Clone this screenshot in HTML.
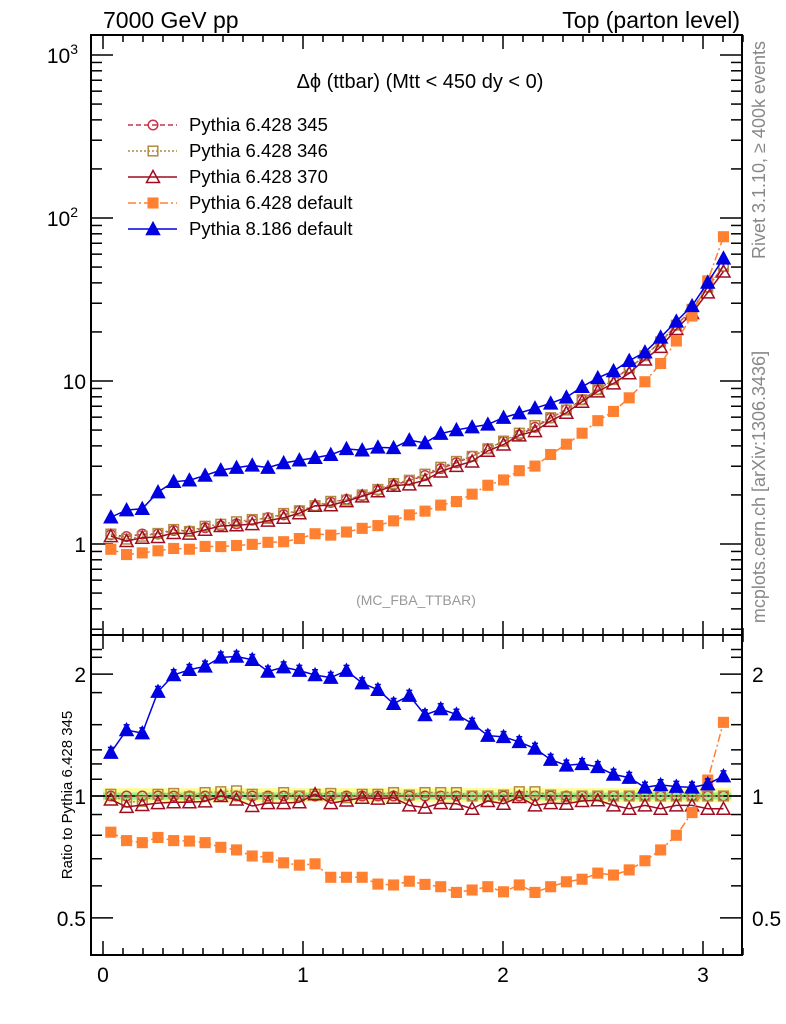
<!DOCTYPE html>
<html><head><meta charset="utf-8"><style>
body{margin:0;background:#fff}
svg{display:block;font-family:"Liberation Sans",sans-serif}
</style></head><body>
<svg id="c" width="786" height="1024" xmlns="http://www.w3.org/2000/svg"></svg>
<script>
const categories=[0,1,2,3,4,5,6,7,8,9,10,11,12,13,14,15,16,17,18,19,20,21,22,23,24,25,26,27,28,29,30,31,32,33,34,35,36,37,38,39];
const p345=[1.14,1.11,1.15,1.15,1.21,1.2,1.26,1.29,1.33,1.4,1.45,1.51,1.6,1.7,1.8,1.88,1.98,2.14,2.3,2.45,2.63,2.9,3.15,3.45,3.84,4.26,4.67,5.2,5.93,6.67,7.68,8.85,10.2,12.0,14.3,17.4,22.0,27.5,37.6,50.5];
const r346=[1.01,0.965,0.97,1.01,1.015,0.995,1.02,1.025,1.03,1.01,0.99,1.02,1.0,1.01,1.015,0.99,1.01,1.01,1.02,1.005,1.02,1.02,1.02,1.0,1.0,1.005,1.025,1.025,1.005,0.995,1.0,1.0,1.0,1.0,1.0,1.0,1.0,1.0,1.0,1.0];
const r370=[0.98,0.94,0.95,0.96,0.965,0.965,0.97,1.0,0.98,0.945,0.96,0.96,0.965,1.01,0.96,0.975,0.99,0.985,0.99,0.948,0.936,0.96,0.957,0.93,0.972,0.957,0.994,0.948,0.96,0.957,0.972,0.976,0.948,0.93,0.948,0.93,0.948,0.948,0.93,0.93];
const r6def=[0.814,0.776,0.767,0.79,0.776,0.774,0.767,0.747,0.736,0.711,0.706,0.684,0.675,0.68,0.63,0.63,0.63,0.606,0.603,0.616,0.605,0.597,0.578,0.586,0.597,0.58,0.603,0.578,0.597,0.614,0.623,0.645,0.638,0.657,0.692,0.736,0.80,0.91,1.095,1.52];
const r8def=[1.28,1.455,1.43,1.81,1.99,2.05,2.09,2.20,2.21,2.17,2.03,2.08,2.04,1.99,1.96,2.04,1.90,1.83,1.69,1.77,1.585,1.64,1.59,1.51,1.41,1.40,1.36,1.31,1.23,1.19,1.20,1.18,1.13,1.11,1.05,1.065,1.055,1.05,1.07,1.12];
const xTicks=["0","1","2","3"];
const mainTicks=[1,10,100,1000];
const ratioTicks=["0.5","1","2"];

const svg=document.getElementById('c');const NS='http://www.w3.org/2000/svg';
function mk(t,a,p){const e=document.createElementNS(NS,t);for(const k in a)e.setAttribute(k,a[k]);(p||svg).appendChild(e);return e;}
const L=91,R=742,T1=35,B1=635,T2=635,B2=955;
const binW=Math.PI/40;
const X=v=>103+200*v;
const Y1=v=>544-163*Math.log10(v);
const Y2=v=>796-405*Math.log10(v);
const xc=i=>(i+0.5)*binW;

const band=mk('g',{});
mk('rect',{x:X(0),y:Y2(1.045),width:X(Math.PI)-X(0),height:Y2(0.965)-Y2(1.045),fill:'#fdfb8a'},band);
mk('rect',{x:X(0),y:Y2(1.02),width:X(Math.PI)-X(0),height:Y2(0.98)-Y2(1.02),fill:'#98f08a'},band);
mk('line',{x1:L,x2:R,y1:Y2(1),y2:Y2(1),stroke:'#000','stroke-width':1.5});

const fr1=mk('rect',{x:L,y:T1,width:R-L,height:B1-T1,fill:'none',stroke:'#000','stroke-width':2});

const fr2=mk('rect',{x:L,y:T2,width:R-L,height:B2-T2,fill:'none',stroke:'#000','stroke-width':2});


const tk=mk('g',{stroke:'#000','stroke-width':1.5});
for(let k=0;k<=32;k++){const v=k/10;const x=X(v);const len=(k%10==0)?14:7;
 [[T1,1],[B1,-1],[T2,1],[B2,-1]].forEach(([y,d])=>mk('line',{x1:x,x2:x,y1:y,y2:y+d*len},tk));}
xTicks.forEach((s,i)=>{const t=mk('text',{x:X(+s),y:982,'font-size':21,'text-anchor':'middle'});t.textContent=s;
 });
for(let d=-1;d<=3;d++)for(let m=1;m<10;m++){const v=m*Math.pow(10,d);const y=Y1(v);if(y<T1||y>B1)continue;const len=m==1?22:11;
 mk('line',{x1:L,x2:L+len,y1:y,y2:y},tk);mk('line',{x1:R,x2:R-len,y1:y,y2:y},tk);}
const mlab=[["1",""],["10",""],["10","2"],["10","3"]];
mainTicks.forEach((v,i)=>{const t=mk('text',{x:86,y:Y1(v)+8,'font-size':21,'text-anchor':'end'});
 
 if(mlab[i][1]){t.textContent=mlab[i][0];const s=mk('tspan',{dy:-9,'font-size':14},t);s.textContent=mlab[i][1];t.setAttribute('x',78);}else t.textContent=mlab[i][0];});
[0.5,0.6,0.7,0.8,0.9,1,1.1,1.2,1.3,1.5,1.8,2,2.2,2.3].forEach(v=>{const y=Y2(v);const len=(v==0.5||v==1||v==2)?22:11;
 mk('line',{x1:L,x2:L+len,y1:y,y2:y},tk);mk('line',{x1:R,x2:R-len,y1:y,y2:y},tk);});
ratioTicks.forEach(s=>{[[86,'end'],[752,'start']].forEach(([x,a])=>{const t=mk('text',{x:x,y:Y2(+s)+8,'font-size':21,'text-anchor':a});t.textContent=s;
 });});

const p6def=p345.map((v,i)=>v*r6def[i]);
const p8def=p345.map((v,i)=>v*r8def[i]);
const p346=p345.map((v,i)=>v*r346[i]);
const p370=p345.map((v,i)=>v*r370[i]);
const r345=p345.map(()=>1);
const series=[
 {n:'pythia-6428-345',c:'#c8344a',d:'5,3',m:'circle',f:false,main:p345,rat:r345},
 {n:'pythia-6428-346',c:'#b08a40',d:'2,2',m:'square',f:false,main:p346,rat:r346},
 {n:'pythia-6428-370',c:'#a00c20',d:'',m:'tri',f:false,main:p370,rat:r370},
 {n:'pythia-6428-default',c:'#ff8030',d:'8,3,2,3',m:'square',f:true,main:p6def,rat:r6def},
 {n:'pythia-8186-default',c:'#0000e0',d:'',m:'tri',f:true,main:p8def,rat:r8def}];
function marker(g,m,x,y,c,f,s){s=s||1;const fill=f?c:'none';const a={stroke:c,'stroke-width':1.5,fill:fill};
 if(m=='circle')return mk('circle',Object.assign({cx:x,cy:y,r:4.8*s},a),g);
 if(m=='square')return mk('rect',Object.assign({x:x-4.8*s,y:y-4.8*s,width:9.6*s,height:9.6*s},a),g);
 return mk('polygon',Object.assign({points:`${x},${y-6.5*s} ${x-6.5*s},${y+5.5*s} ${x+6.5*s},${y+5.5*s}`},a),g);}
series.forEach(s=>{
 [[s.main,Y1,'main'],[s.rat,Y2,'ratio']].forEach(([arr,Yf,pn])=>{
  const g=mk('g',{});
  const pts=arr.map((v,i)=>X(xc(categories[i]))+','+Yf(v)).join(' ');
  mk('polyline',{points:pts,fill:'none',stroke:s.c,'stroke-width':1.5,'stroke-dasharray':s.d},g);
  arr.forEach((v,i)=>{const x=X(xc(categories[i])),y=Yf(v);
   if(s.n=='pythia-8186-default'&&pn=='ratio'){mk('line',{x1:x,x2:x,y1:Yf(v*1.03),y2:Yf(v/1.03),stroke:s.c,'stroke-width':1.5},g);
     mk('line',{x1:x-3,x2:x+3,y1:Yf(v*1.03),y2:Yf(v*1.03),stroke:s.c,'stroke-width':1.5},g);
     mk('line',{x1:x-3,x2:x+3,y1:Yf(v/1.03),y2:Yf(v/1.03),stroke:s.c,'stroke-width':1.5},g);}
   const mm=marker(g,s.m,x,y,s.c,s.f);
   });
 });
});

const names=['Pythia 6.428 345','Pythia 6.428 346','Pythia 6.428 370','Pythia 6.428 default','Pythia 8.186 default'];
series.forEach((s,i)=>{const y=125+i*26;const g=mk('g',{});
 mk('line',{x1:128,x2:177,y1:y,y2:y,stroke:s.c,'stroke-width':1.5,'stroke-dasharray':s.d},g);
 marker(g,s.m,153,y,s.c,s.f);
 const t=mk('text',{x:189,y:y+6,'font-size':18.5},g);t.textContent=names[i];});

function txt(x,y,s,size,attrs,name){const t=mk('text',Object.assign({x:x,y:y,'font-size':size},attrs||{}));t.textContent=s;
 return t;}
txt(103,28,'7000 GeV pp',23,{},'energy-label');
txt(740,28,'Top (parton level)',23,{'text-anchor':'end'},'process-label');
txt(420,88,'Δϕ (ttbar) (Mtt < 450 dy < 0)',20,{'text-anchor':'middle'},'plot-title');
txt(416,605,'(MC_FBA_TTBAR)',14,{'text-anchor':'middle',fill:'#999'},'analysis-label');
txt(0,0,'Rivet 3.1.10, ≥ 400k events',18,{'text-anchor':'middle',fill:'#888',transform:'translate(765,150) rotate(-90)'},'rivet-version-label');
txt(0,0,'mcplots.cern.ch [arXiv:1306.3436]',18,{'text-anchor':'middle',fill:'#888',transform:'translate(765,487) rotate(-90)'},'source-label');
txt(0,0,'Ratio to Pythia 6.428 345',15,{'text-anchor':'middle',transform:'translate(72,795) rotate(-90)'},'ratio-y-axis-title');
</script>
</body></html>
